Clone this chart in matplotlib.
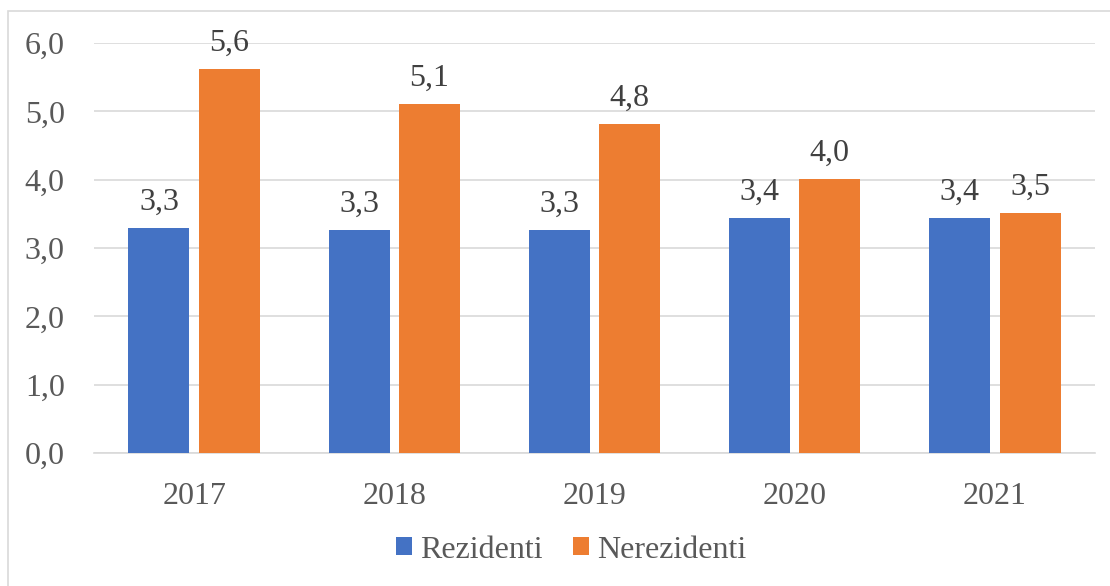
import matplotlib
matplotlib.use("Agg")
import matplotlib.pyplot as plt
from matplotlib.patches import Rectangle
import numpy as np

years = ["2017", "2018", "2019", "2020", "2021"]
rezidenti = [3.29, 3.27, 3.26, 3.44, 3.44]
nerezidenti = [5.62, 5.11, 4.81, 4.01, 3.51]
series_names = ["Rezidenti", "Nerezidenti"]
colors = ["#4472C4", "#ED7D31"]

plt.rcParams['font.family'] = ['Liberation Serif', 'DejaVu Serif']
txt = "#595959"
fs = 23

fig = plt.figure(figsize=(11.1, 5.86), dpi=100)
fig.patches.append(Rectangle((8/1110, -0.01), 1.02, 1 - 11/586 + 0.01, transform=fig.transFigure,
                             fill=False, edgecolor="#D9D9D9", linewidth=1.2))
ax = fig.add_axes([94/1110, 1 - 453/586, (1095 - 94)/1110, (453 - 43)/586])

x = np.arange(len(years))
w = 0.305
off = 0.1755
b1 = ax.bar(x - off, rezidenti, w, color=colors[0], label=series_names[0], zorder=3)
b2 = ax.bar(x + off, nerezidenti, w, color=colors[1], label=series_names[1], zorder=3)

for bars, vals in ((b1, rezidenti), (b2, nerezidenti)):
    for r, v in zip(bars, vals):
        ax.annotate(f"{v:.1f}".replace(".", ","), (r.get_x() + r.get_width()/2, v),
                    xytext=(0, 18.5), textcoords="offset points", ha="center", va="center",
                    fontsize=fs, color="#404040", clip_on=False)

ax.set_xlim(-0.5, len(years) - 0.5)
ax.set_ylim(0, 6)
ax.set_yticks(np.arange(0, 6.1, 1.0))
ax.set_yticklabels([f"{t:.1f}".replace(".", ",") for t in np.arange(0, 6.1, 1.0)])
ax.set_xticks(x)
ax.set_xticklabels(years)
ax.tick_params(axis="both", length=0, labelsize=fs, colors=txt)
ax.tick_params(axis="y", pad=21)
ax.tick_params(axis="x", pad=21)
ax.grid(axis="y", color="#D9D9D9", linewidth=1.2, zorder=0)
for s in ("top", "right", "left"):
    ax.spines[s].set_visible(False)
ax.spines["bottom"].set_color("#D9D9D9")
ax.spines["bottom"].set_linewidth(1.2)

leg = fig.legend(handles=[b1, b2], labels=series_names, loc="center", bbox_to_anchor=(571/1110, 1 - 550/586),
                 ncol=2, frameon=False, fontsize=fs, handlelength=0.5, handleheight=0.5,
                 handletextpad=0.25, columnspacing=0.97)
for t in leg.get_texts():
    t.set_color(txt)

fig.savefig("out.png", dpi=100)
